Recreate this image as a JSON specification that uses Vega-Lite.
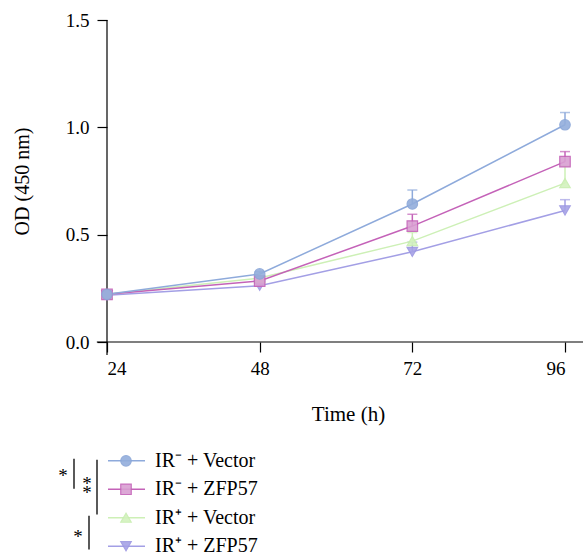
{
  "$schema": "https://vega.github.io/schema/vega-lite/v6.json",
  "padding": {"left": 12, "top": 11, "right": 5, "bottom": 0},
  "spacing": 24,
  "config": {
    "font": "Liberation Serif",
    "view": {"stroke": null},
    "axis": {
      "domain": false,
      "grid": false,
      "tickColor": "black",
      "tickWidth": 1.2,
      "tickSize": 10,
      "labelColor": "black",
      "labelFontSize": 19,
      "titleColor": "black",
      "titleFontSize": 20,
      "titleFontWeight": "normal"
    }
  },
  "datasets": {
    "od": [
      {"group": "IR⁺ + ZFP57", "time": 24, "od": 0.218, "hi": 0.228},
      {"group": "IR⁺ + ZFP57", "time": 48, "od": 0.262, "hi": 0.274},
      {"group": "IR⁺ + ZFP57", "time": 72, "od": 0.42, "hi": 0.465},
      {"group": "IR⁺ + ZFP57", "time": 96, "od": 0.613, "hi": 0.663},
      {"group": "IR⁺ + Vector", "time": 24, "od": 0.222, "hi": 0.232},
      {"group": "IR⁺ + Vector", "time": 48, "od": 0.298, "hi": 0.308},
      {"group": "IR⁺ + Vector", "time": 72, "od": 0.47, "hi": 0.51},
      {"group": "IR⁺ + Vector", "time": 96, "od": 0.74, "hi": 0.82},
      {"group": "IR⁻ + ZFP57", "time": 24, "od": 0.222, "hi": 0.23},
      {"group": "IR⁻ + ZFP57", "time": 48, "od": 0.284, "hi": 0.299},
      {"group": "IR⁻ + ZFP57", "time": 72, "od": 0.54, "hi": 0.595},
      {"group": "IR⁻ + ZFP57", "time": 96, "od": 0.84, "hi": 0.887},
      {"group": "IR⁻ + Vector", "time": 24, "od": 0.222, "hi": 0.232},
      {"group": "IR⁻ + Vector", "time": 48, "od": 0.317, "hi": 0.327},
      {"group": "IR⁻ + Vector", "time": 72, "od": 0.643, "hi": 0.708},
      {"group": "IR⁻ + Vector", "time": 96, "od": 1.012, "hi": 1.069}
    ],
    "legend": [
      {"group": "IR⁻ + Vector", "row": 1},
      {"group": "IR⁻ + ZFP57", "row": 2},
      {"group": "IR⁺ + Vector", "row": 3},
      {"group": "IR⁺ + ZFP57", "row": 4}
    ],
    "brackets": [
      {"pair": "IR⁻ Vector vs IR⁻ ZFP57", "sig": "*", "top": 0.93, "bottom": 1.98, "mid": 1.39},
      {"pair": "IR⁻ Vector vs IR⁺ Vector", "sig": "**", "top": 0.96, "bottom": 2.89, "mid": 1.9},
      {"pair": "IR⁺ Vector vs IR⁺ ZFP57", "sig": "*", "top": 2.93, "bottom": 4.12, "mid": 3.53}
    ]
  },
  "vconcat": [
    {
      "width": 458,
      "height": 322,
      "layer": [
        {
          "data": {"values": [{"axis": "x"}]},
          "mark": {"type": "rule", "color": "black", "strokeWidth": 1.2},
          "encoding": {
            "x": {"datum": 22.4, "type": "quantitative"},
            "x2": {"datum": 99},
            "y": {"datum": 0, "type": "quantitative"}
          }
        },
        {
          "data": {"values": [{"axis": "y"}]},
          "mark": {"type": "rule", "color": "black", "strokeWidth": 1.2},
          "encoding": {
            "x": {"datum": 24, "type": "quantitative"},
            "y": {"datum": -0.06, "type": "quantitative"},
            "y2": {"datum": 1.5}
          }
        },
        {
          "data": {"name": "od"},
          "mark": {"type": "rule", "strokeWidth": 1.5},
          "encoding": {
            "x": {"field": "time", "type": "quantitative",
              "scale": {"domain": [24, 96], "nice": false, "zero": false},
              "axis": {"values": [24, 48, 72, 96], "title": "Time (h)", "labelPadding": 7, "titlePadding": 25, "titleFontSize": 21, "titleX": 241}},
            "y": {"field": "od", "type": "quantitative",
              "scale": {"domain": [0, 1.5], "nice": false},
              "axis": {"values": [0, 0.5, 1, 1.5], "format": ".1f", "title": "OD (450 nm)", "labelPadding": 8, "titlePadding": 33}},
            "y2": {"field": "hi"},
            "color": {"field": "group", "type": "nominal", "legend": null,
              "scale": {"domain": ["IR⁻ + Vector", "IR⁻ + ZFP57", "IR⁺ + Vector", "IR⁺ + ZFP57"],
                        "range": ["#8eaadb", "#c462b8", "#cdf0b6", "#a39fe5"]}}
          }
        },
        {
          "data": {"name": "od"},
          "mark": {"type": "point", "shape": "M-1,0L1,0", "filled": false, "size": 100, "strokeWidth": 1.5},
          "encoding": {
            "x": {"field": "time", "type": "quantitative"},
            "y": {"field": "hi", "type": "quantitative"},
            "color": {"field": "group", "type": "nominal", "legend": null}
          }
        },
        {
          "data": {"name": "od"},
          "mark": {"type": "line", "strokeWidth": 1.5},
          "encoding": {
            "x": {"field": "time", "type": "quantitative"},
            "y": {"field": "od", "type": "quantitative"},
            "color": {"field": "group", "type": "nominal", "legend": null}
          }
        },
        {
          "data": {"name": "od"},
          "mark": {"type": "point", "filled": true, "size": 110, "opacity": 0.9, "strokeWidth": 1.2},
          "encoding": {
            "x": {"field": "time", "type": "quantitative"},
            "y": {"field": "od", "type": "quantitative"},
            "shape": {"field": "group", "type": "nominal", "legend": null,
              "scale": {"domain": ["IR⁻ + Vector", "IR⁻ + ZFP57", "IR⁺ + Vector", "IR⁺ + ZFP57"],
                        "range": ["circle", "square", "triangle-up", "triangle-down"]}},
            "fill": {"field": "group", "type": "nominal", "legend": null,
              "scale": {"domain": ["IR⁻ + Vector", "IR⁻ + ZFP57", "IR⁺ + Vector", "IR⁺ + ZFP57"],
                        "range": ["#93aedc", "#d99fd2", "#d3f2be", "#a6a2e6"]}},
            "stroke": {"field": "group", "type": "nominal", "legend": null,
              "scale": {"domain": ["IR⁻ + Vector", "IR⁻ + ZFP57", "IR⁺ + Vector", "IR⁺ + ZFP57"],
                        "range": ["#8aa6d8", "#c462b8", "#c8eeb0", "#9c97e2"]}}
          }
        }
      ]
    },
    {
      "width": 300,
      "height": 111,
      "layer": [
        {
          "data": {"name": "legend"},
          "mark": {"type": "rule", "strokeWidth": 1.5},
          "encoding": {
            "x": {"datum": 1, "type": "quantitative", "axis": null,
              "scale": {"domain": [0, 300], "nice": false, "zero": false}},
            "x2": {"datum": 38},
            "y": {"field": "row", "type": "quantitative", "axis": null,
              "scale": {"domain": [0.55, 4.45], "reverse": true, "nice": false, "zero": false}},
            "color": {"field": "group", "type": "nominal", "legend": null,
              "scale": {"domain": ["IR⁻ + Vector", "IR⁻ + ZFP57", "IR⁺ + Vector", "IR⁺ + ZFP57"],
                        "range": ["#8eaadb", "#c462b8", "#cdf0b6", "#a39fe5"]}}
          }
        },
        {
          "data": {"name": "legend"},
          "mark": {"type": "point", "filled": true, "size": 110, "opacity": 0.9, "strokeWidth": 1.2},
          "encoding": {
            "x": {"datum": 19, "type": "quantitative"},
            "y": {"field": "row", "type": "quantitative"},
            "shape": {"field": "group", "type": "nominal", "legend": null,
              "scale": {"domain": ["IR⁻ + Vector", "IR⁻ + ZFP57", "IR⁺ + Vector", "IR⁺ + ZFP57"],
                        "range": ["circle", "square", "triangle-up", "triangle-down"]}},
            "fill": {"field": "group", "type": "nominal", "legend": null,
              "scale": {"domain": ["IR⁻ + Vector", "IR⁻ + ZFP57", "IR⁺ + Vector", "IR⁺ + ZFP57"],
                        "range": ["#93aedc", "#d99fd2", "#d3f2be", "#a6a2e6"]}},
            "stroke": {"field": "group", "type": "nominal", "legend": null,
              "scale": {"domain": ["IR⁻ + Vector", "IR⁻ + ZFP57", "IR⁺ + Vector", "IR⁺ + ZFP57"],
                        "range": ["#8aa6d8", "#c462b8", "#c8eeb0", "#9c97e2"]}}
          }
        },
        {
          "data": {"name": "legend"},
          "mark": {"type": "text", "align": "left", "baseline": "middle", "fontSize": 20, "color": "black"},
          "encoding": {
            "x": {"datum": 48, "type": "quantitative"},
            "y": {"field": "row", "type": "quantitative"},
            "text": {"field": "group"}
          }
        },
        {
          "data": {"name": "brackets"},
          "transform": [{"filter": "datum.pair === 'IR⁻ Vector vs IR⁻ ZFP57'"}],
          "layer": [
            {
              "mark": {"type": "rule", "color": "black", "strokeWidth": 1.3},
              "encoding": {
                "x": {"datum": -33, "type": "quantitative"},
                "y": {"field": "top", "type": "quantitative"},
                "y2": {"field": "bottom"}
              }
            },
            {
              "mark": {"type": "text", "fontSize": 19, "color": "black", "align": "center", "baseline": "middle", "dy": 4},
              "encoding": {
                "x": {"datum": -44, "type": "quantitative"},
                "y": {"field": "mid", "type": "quantitative"},
                "text": {"field": "sig"}
              }
            }
          ]
        },
        {
          "data": {"name": "brackets"},
          "transform": [{"filter": "datum.pair === 'IR⁻ Vector vs IR⁺ Vector'"}],
          "layer": [
            {
              "mark": {"type": "rule", "color": "black", "strokeWidth": 1.3},
              "encoding": {
                "x": {"datum": -10, "type": "quantitative"},
                "y": {"field": "top", "type": "quantitative"},
                "y2": {"field": "bottom"}
              }
            },
            {
              "mark": {"type": "text", "fontSize": 19, "color": "black", "align": "center", "baseline": "middle", "dy": -2, "lineHeight": 9},
              "encoding": {
                "x": {"datum": -20, "type": "quantitative"},
                "y": {"field": "mid", "type": "quantitative"},
                "text": {"value": ["*", "*"]}
              }
            }
          ]
        },
        {
          "data": {"name": "brackets"},
          "transform": [{"filter": "datum.pair === 'IR⁺ Vector vs IR⁺ ZFP57'"}],
          "layer": [
            {
              "mark": {"type": "rule", "color": "black", "strokeWidth": 1.3},
              "encoding": {
                "x": {"datum": -18, "type": "quantitative"},
                "y": {"field": "top", "type": "quantitative"},
                "y2": {"field": "bottom"}
              }
            },
            {
              "mark": {"type": "text", "fontSize": 19, "color": "black", "align": "center", "baseline": "middle", "dy": 4},
              "encoding": {
                "x": {"datum": -29, "type": "quantitative"},
                "y": {"field": "mid", "type": "quantitative"},
                "text": {"field": "sig"}
              }
            }
          ]
        }
      ]
    }
  ]
}
